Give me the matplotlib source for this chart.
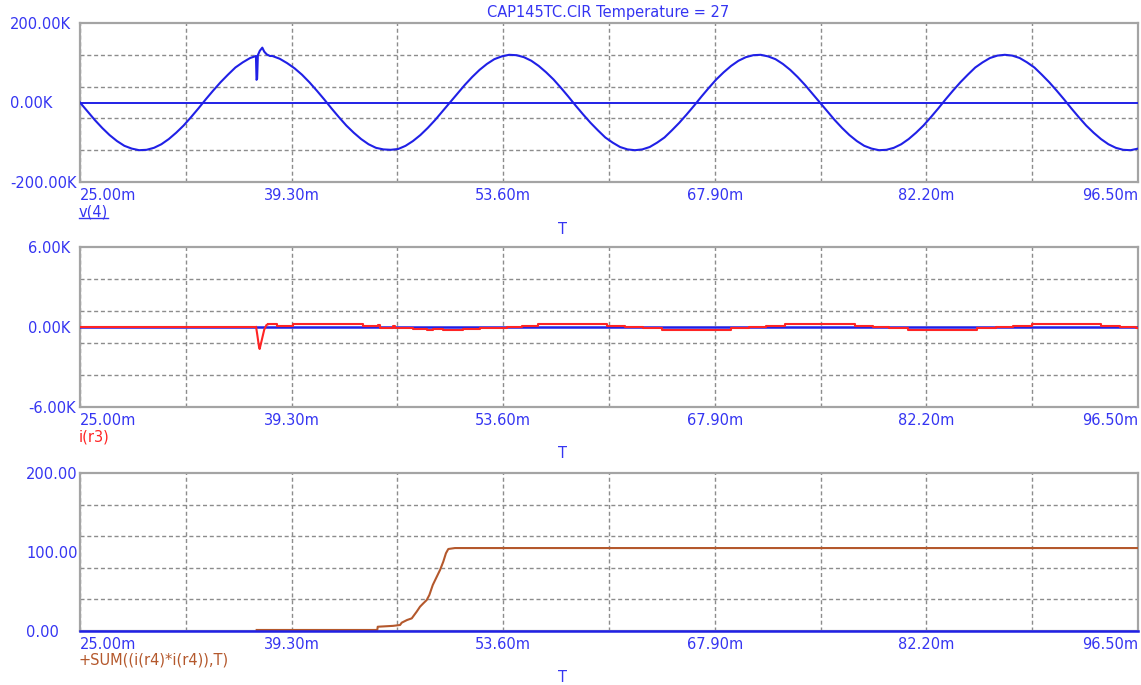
import matplotlib
matplotlib.use('Agg')
import matplotlib.pyplot as plt
from matplotlib.ticker import FixedLocator
from matplotlib.lines import Line2D

plt.rcParams['font.family'] = ['DejaVu Sans']

# ---------------- data ----------------
title = "CAP145TC.CIR Temperature = 27"
x_ticks = [25.0, 39.3, 53.6, 67.9, 82.2, 96.5]
x_tick_labels = ["25.00m", "39.30m", "53.60m", "67.90m", "82.20m", "96.50m"]
x_grid = [25.0, 32.15, 39.3, 46.45, 53.6, 60.75, 67.9, 75.05, 82.2, 89.35, 96.5]

# panel 1 : v(4)  (time in ms, value in K)
v4_t = [25, 25.5, 26, 26.5, 27, 27.5, 28, 28.5, 29, 29.5, 30, 30.5, 31, 31.5, 32, 32.5,
        33, 33.5, 34, 34.5, 35, 35.5, 36, 36.5, 36.89, 36.93, 36.97, 37.02, 37.15, 37.32,
        37.45, 37.62, 37.84, 38, 38.5, 39, 39.5, 40, 40.5, 41, 41.5, 42, 42.5, 43, 43.5,
        44, 44.5, 45, 45.5, 46, 46.5, 47, 47.5, 48, 48.5, 49, 49.5, 50, 50.5, 51, 51.5,
        52, 52.5, 53, 53.5, 54, 54.5, 55, 55.5, 56, 56.5, 57, 57.5, 58, 58.5, 59, 59.5,
        60, 60.5, 61, 61.5, 62, 62.5, 63, 63.5, 64, 64.5, 65, 65.5, 66, 66.5, 67, 67.5,
        68, 68.5, 69, 69.5, 70, 70.5, 71, 71.5, 72, 72.5, 73, 73.5, 74, 74.5, 75, 75.5,
        76, 76.5, 77, 77.5, 78, 78.5, 79, 79.5, 80, 80.5, 81, 81.5, 82, 82.5, 83, 83.5,
        84, 84.5, 85, 85.5, 86, 86.5, 87, 87.5, 88, 88.5, 89, 89.5, 90, 90.5, 91, 91.5,
        92, 92.5, 93, 93.5, 94, 94.5, 95, 95.5, 96, 96.5]
v4_v = [0, -22, -44, -64, -82, -97, -109, -116, -120, -119, -114, -105, -92, -76, -58, -37,
        -15, 8, 30, 51, 70, 88, 101, 112, 117, 57, 60, 119, 130, 138,
        128, 121, 117, 117, 110, 99, 86, 70, 51, 30, 8, -15, -37, -58, -76,
        -92, -105, -114, -118, -119, -117, -109, -97, -82, -64, -44, -22, 0, 22, 44, 64,
        82, 97, 109, 116, 120, 119, 114, 105, 92, 76, 58, 37, 15, -8, -30, -51,
        -70, -88, -101, -112, -118, -120, -118, -112, -101, -88, -70, -51, -30, -8, 15, 37,
        58, 76, 92, 105, 114, 119, 120, 116, 109, 97, 82, 64, 44, 22, 0, -22,
        -44, -64, -82, -97, -109, -116, -120, -119, -114, -105, -92, -76, -58, -37, -15, 8,
        30, 51, 70, 88, 101, 112, 118, 120, 118, 112, 101, 88, 70, 51, 30, 8,
        -15, -37, -58, -76, -92, -105, -114, -119, -120, -116]
v4_yticks = [-200, 0, 200]
v4_yticklabels = ["-200.00K", "0.00K", "200.00K"]
v4_ygrid = [-120, -40, 40, 120]

# panel 2 : i(r3)  step breakpoints (ms) and values (K)
ir3_step_t = [25.0, 36.90, 37.70, 38.31, 39.39, 44.13, 45.14, 45.30, 46.13, 46.30, 46.42,
              47.50, 48.45, 48.86, 49.53, 50.88, 52.03, 53.59, 53.86, 54.87, 55.95,
              60.61, 61.83, 63.03, 64.31, 68.97, 70.21, 71.36, 72.64, 77.37, 78.59,
              79.67, 80.96, 85.62, 86.90, 88.05, 89.34, 94.00, 95.28, 96.36, 96.50]
ir3_step_v = [0, float('nan'), 0.2, 0.05, 0.2, 0.05, 0.15, -0.05, 0.05, -0.05, -0.1,
              -0.15, -0.2, -0.15, -0.2, -0.15, -0.1, -0.05, 0, 0.1, 0.2,
              0.1, 0, -0.1, -0.2, -0.1, 0, 0.1, 0.2, 0.1, 0,
              -0.1, -0.2, -0.1, 0, 0.1, 0.2, 0.1, 0, -0.1, -0.1]
ir3_dip_t = [36.90, 36.97, 37.10, 37.14, 37.28, 37.45, 37.60, 37.70]
ir3_dip_v = [0, -0.5, -1.5, -1.65, -1.0, -0.2, 0.15, 0.2]
ir3_yticks = [-6, 0, 6]
ir3_yticklabels = ["-6.00K", "0.00K", "6.00K"]
ir3_ygrid = [-3.6, -1.2, 1.2, 3.6]

# panel 3 : SUM((i(r4)*i(r4)),T)
sum_t = [36.94, 45.09, 45.12, 46.15, 46.63, 46.74, 47.10, 47.42, 47.75, 47.98, 48.20,
         48.43, 48.61, 48.84, 49.11, 49.33, 49.55, 49.73, 49.89, 50.34, 96.5]
sum_v = [1.3, 1.3, 5.4, 6.5, 7.6, 10.5, 13.9, 16, 24.4, 30.8, 35,
         39.2, 45.6, 58.2, 68.7, 77.2, 87.7, 98.4, 103.8, 105, 105]
sum_yticks = [0, 100, 200]
sum_yticklabels = ["0.00", "100.00", "200.00"]
sum_ygrid = [40, 80, 120, 160]

# ---------------- style ----------------
W, H = 1141, 685
BLUE_TXT = '#3535F2'
BLUE = '#2020E6'
RED = '#FF2424'
BROWN = '#B4582C'
GRID = '#8C8C8C'
SPINE = '#A4A4A4'
FS = 10.5

fig = plt.figure(figsize=(W / 100, H / 100), dpi=100)


def px_axes(l, t, r, b):
    return fig.add_axes([l / W, 1 - b / H, (r - l) / W, (b - t) / H])


def style(ax, ylim, yticks, ylabels, ygrid, label_left_px):
    ax.set_xlim(x_ticks[0], x_ticks[-1])
    ax.set_ylim(*ylim)
    ax.set_xticks(x_ticks, x_tick_labels)
    ax.xaxis.set_minor_locator(FixedLocator(x_grid))
    ax.set_yticks(yticks, ylabels)
    ax.yaxis.set_minor_locator(FixedLocator(ygrid))
    labels = ax.get_xticklabels()
    for i, lbl in enumerate(labels):
        lbl.set_ha('left' if i == 0 else ('right' if i == len(labels) - 1 else 'center'))
    for lbl in ax.get_yticklabels():
        lbl.set_ha('left')
    ax.tick_params(axis='x', which='both', length=0, pad=4, labelcolor=BLUE_TXT, labelsize=FS)
    ax.tick_params(axis='y', which='both', length=0, pad=(80 - label_left_px) * 0.72,
                   labelcolor=BLUE_TXT, labelsize=FS)
    ax.grid(True, axis='x', which='both', color=GRID, lw=1.0, ls=(0, (2.9, 2.0)))
    ax.grid(True, axis='y', which='minor', color=GRID, lw=1.0, ls=(0, (2.9, 2.0)))
    ax.grid(False, axis='y', which='major')
    for s in ax.spines.values():
        s.set_color(SPINE)
        s.set_linewidth(1.6)
    ax.set_axisbelow(True)


ax1 = px_axes(80, 23, 1138, 182)
ax2 = px_axes(80, 247, 1138, 407)
ax3 = px_axes(80, 473, 1138, 631)

style(ax1, (-200, 200), v4_yticks, v4_yticklabels, v4_ygrid, 10)
style(ax2, (-6, 6), ir3_yticks, ir3_yticklabels, ir3_ygrid, 28)
style(ax3, (0, 200), sum_yticks, sum_yticklabels, sum_ygrid, 26)

# panel 1
ax1.axhline(0, color=BLUE, lw=1.4, zorder=3)
ax1.plot(v4_t, v4_v, color=BLUE, lw=1.5, zorder=4, solid_joinstyle='round')

# panel 2
ax2.axhline(0, color=BLUE, lw=1.8, zorder=3)
ax2.plot(ir3_step_t, ir3_step_v, color=RED, lw=1.5, drawstyle='steps-post', zorder=4)
ax2.plot(ir3_dip_t, ir3_dip_v, color=RED, lw=1.5, zorder=4)

# panel 3
ax3.axhline(0, color=BLUE, lw=1.8, zorder=5, clip_on=False)
ax3.plot(sum_t, sum_v, color=BROWN, lw=1.5, zorder=4)


def ftxt(x, y, s, color, ha='left'):
    return fig.text(x / W, 1 - y / H, s, ha=ha, va='center', color=color, fontsize=FS)


ftxt(608, 13, title, BLUE_TXT, ha='center')
v4_label = ftxt(79, 212, 'v(4)', BLUE_TXT)
ftxt(562, 229, 'T', BLUE_TXT, ha='center')
ftxt(79, 437, 'i(r3)', RED)
ftxt(562, 453, 'T', BLUE_TXT, ha='center')
ftxt(79, 660, '+SUM((i(r4)*i(r4)),T)', BROWN)
ftxt(562, 677, 'T', BLUE_TXT, ha='center')

# underline for the v(4) trace name
fig.canvas.draw()
bb = v4_label.get_window_extent()
fig.add_artist(Line2D([bb.x0 / W, bb.x1 / W], [(bb.y0 + 1) / H, (bb.y0 + 1) / H],
                      color=BLUE_TXT, lw=1.0, transform=fig.transFigure))

fig.savefig('out.png', dpi=100, facecolor='white')
